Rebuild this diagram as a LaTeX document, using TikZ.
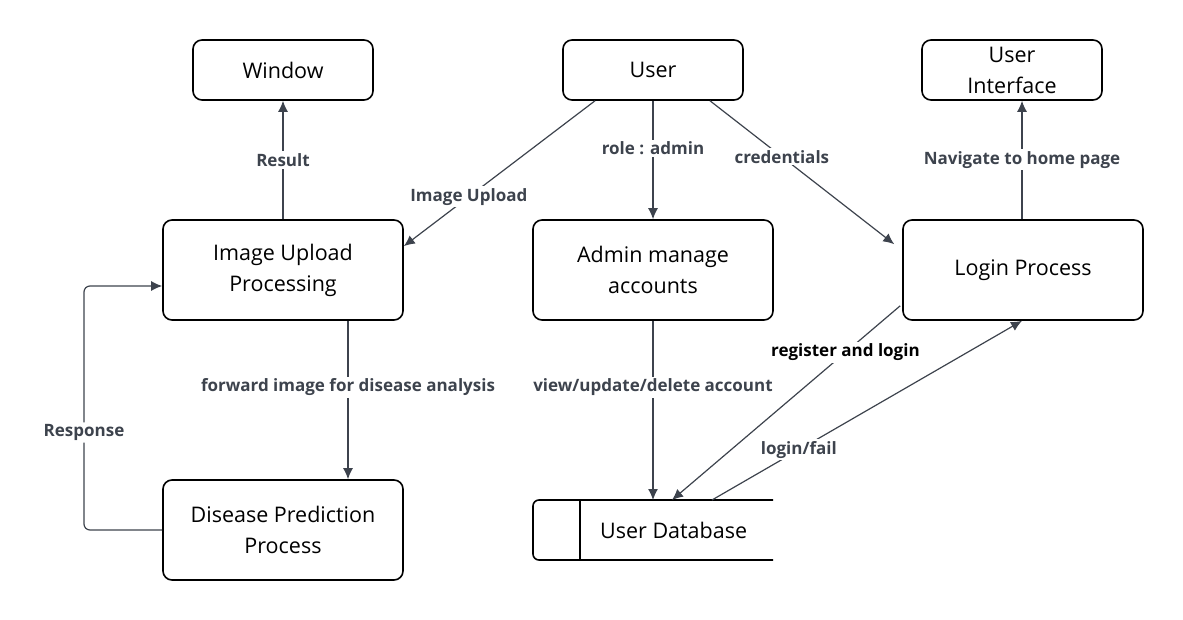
\documentclass[tikz,border=0pt]{standalone}
\usepackage{fontspec}
\setmainfont{Open Sans}
\usetikzlibrary{arrows.meta}
\definecolor{conn}{HTML}{3D434D}
\begin{document}
\begin{tikzpicture}[x=1pt,y=-1pt,
  box/.style={draw=black,line width=1.6pt,rounded corners=9pt,fill=white,align=center,font=\fontsize{21.5}{31}\selectfont,inner sep=0pt},
  small/.style={box,minimum width=180pt,minimum height=60pt},
  big/.style={box,minimum width=240pt,minimum height=100pt},
  conn/.style={draw=conn,line width=1.2pt,-{Latex[length=11pt,width=10pt]}},
  lbl/.style={fill=white,inner sep=2pt,font=\fontsize{17}{20}\selectfont\bfseries,text=conn}]
\useasboundingbox (0,0) rectangle (1183,620);
\node[small] (win) at (283,70) {Window};
\node[small] (user) at (653,70) {User};
\node[small] (ui) at (1012,70) {User\\Interface};
\node[big] (iup) at (283,270) {Image Upload\\Processing};
\node[big] (adm) at (653,270) {Admin manage\\accounts};
\node[big] (login) at (1023,270) {Login Process};
\node[big] (dis) at (283,530) {Disease Prediction\\Process};
% database
\node[font=\fontsize{21.5}{31}\selectfont,anchor=west,inner sep=0pt] (db) at (600,530) {User Database};
\draw[black,line width=1.6pt,rounded corners=6pt] (773,500) -- (533,500) -- (533,560) -- (773,560);
\draw[black,line width=1.6pt] (580,500) -- (580,560);
\coordinate (dbA) at (653,500);
\coordinate (dbB) at (672,500);
\coordinate (dbC) at (712,500);
% connectors
\draw[conn] (iup.north) -- node[lbl] {Result} (win.south);
\draw[conn] ([xshift=-58pt]user.south) -- node[lbl,pos=0.66] {Image Upload} ([yshift=-27pt]iup.north east);
\draw[conn] (user.south) -- node[lbl,pos=0.4] {role : admin} (adm.north);
\draw[conn] ([xshift=57pt]user.south) -- node[lbl,pos=0.39] {credentials} ([xshift=-8pt,yshift=-25pt]login.north west);
\draw[conn] ([xshift=-1pt]login.north) -- node[lbl] {Navigate to home page} ([xshift=10pt]ui.south);
\draw[conn] ([xshift=65pt]iup.south) -- node[lbl,pos=0.42] {forward image for disease analysis} ([xshift=65pt]dis.north);
\draw[conn] (adm.south) -- node[lbl,pos=0.37] {view/update/delete account} (dbA);
\draw[conn] ([xshift=-2pt,yshift=15pt]login.south west) -- node[lbl,pos=0.24,text=black] {register and login} (dbB);
\draw[conn] (dbC) -- node[lbl,pos=0.28] {login/fail} ([xshift=-1pt]login.south);
\draw[conn,rounded corners=6pt] (dis.west) -- (84,530) -- node[lbl,pos=0.4] {Response} (84,286) -- (iup.west |- 0,286);
\end{tikzpicture}
\end{document}
